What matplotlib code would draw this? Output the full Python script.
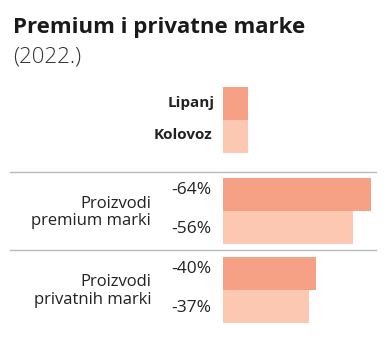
import matplotlib.pyplot as plt
from matplotlib.patches import Rectangle

plt.rcParams['font.family'] = ['Open Sans', 'DejaVu Sans']

# podaci
kategorije = ['Proizvodi\npremium marki', 'Proizvodi\nprivatnih marki']
serije = ['Lipanj', 'Kolovoz']
lipanj = [64, 40]
kolovoz = [56, 37]
boje = ['#F6A085', '#FCC8B2']

W, H = 388, 342
fig = plt.figure(figsize=(W / 100, H / 100), dpi=100)


def fx(px):
    return px / W


def fy(py):
    return 1 - py / H


# naslov
fig.text(fx(13), fy(33.5), 'Premium i privatne marke', fontsize=16,
         fontweight='bold', color='#1a1a1a', va='baseline')
fig.text(fx(13), fy(63), '(2022.)', fontsize=16, fontweight='light',
         color='#333333', va='baseline')

# legenda
leg_top = 87
for i, (s, c) in enumerate(zip(serije, boje)):
    y0 = leg_top + i * 33
    fig.patches.append(Rectangle((fx(223), fy(y0 + 33)), 25 / W, 33 / H,
                                 transform=fig.transFigure, color=c, lw=0))
    fig.text(fx(215 - 3 * i), fy(y0 + 15.5), s, fontsize=11, fontweight='bold',
             color='#222222', ha='right', va='center')

# separatori
for ly in [172, 250]:
    fig.add_artist(plt.Line2D([fx(10), fx(376)], [fy(ly), fy(ly)],
                              transform=fig.transFigure, color='#bbbbbb', lw=1))

# os s trakama: x u postocima, y u pikselima
ax = fig.add_axes([fx(223), 0, fx(371) - fx(223), 1])
ax.set_xlim(0, 64)
ax.set_ylim(H, 0)
ax.axis('off')

bar_h = 33
grupe_top = [178, 256.5]
for g, top in enumerate(grupe_top):
    for j, (vals, c) in enumerate(zip([lipanj, kolovoz], boje)):
        y = top + j * bar_h + bar_h / 2
        ax.barh(y, vals[g], height=bar_h, color=c, lw=0, left=0)
        pomak = -4 if j == 0 else 1.5
        fig.text(fx(211), fy(y + pomak), f'-{vals[g]}%', fontsize=12.5,
                 color='#222222', ha='right', va='center')
    fig.text(fx(151), fy(top + bar_h + 1.5), kategorije[g], fontsize=12,
             color='#222222', ha='right', va='center', linespacing=1.1)

fig.savefig('out.png', dpi=100)
